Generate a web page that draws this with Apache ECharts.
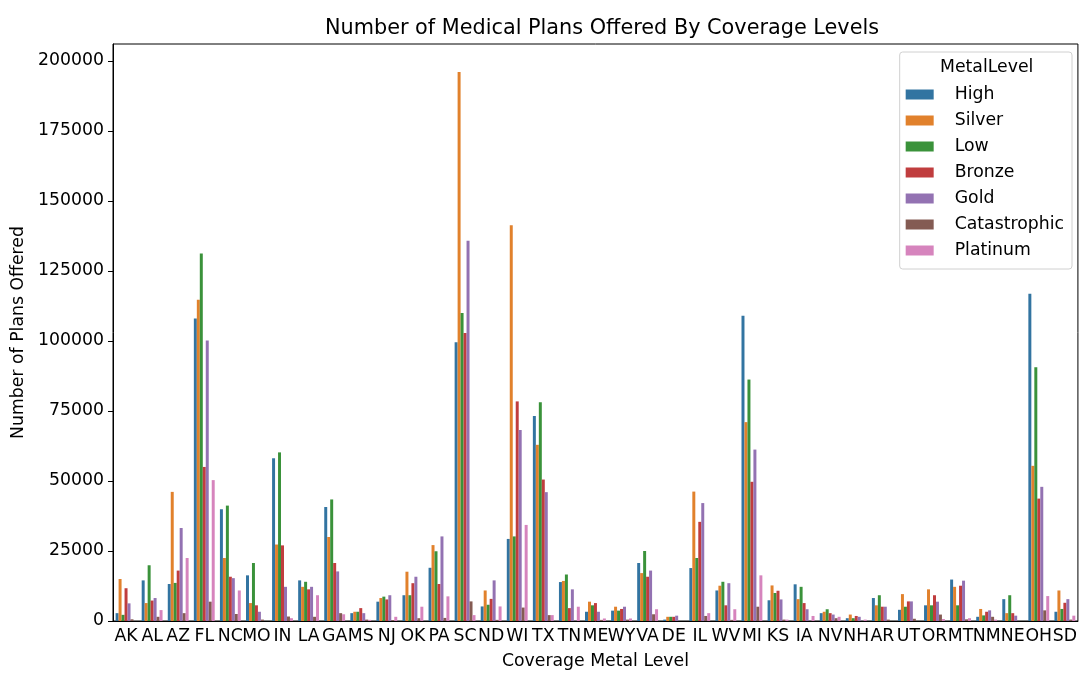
<!DOCTYPE html>
<html lang="en">
<head>
    <meta charset="UTF-8">
    <title>Medical Plans by Coverage Level</title>
    <script type="text/javascript" src="https://cdn.jsdelivr.net/npm/echarts@6/dist/echarts.min.js"></script>
    <style>
        html, body { margin: 0; padding: 0; background: #fff; }
    </style>
</head>
<body>
<div id="main" style="width:1080px;height:675px;"></div>
<script>
    const states = ['AK','AL','AZ','FL','NC','MO','IN','LA','GA','MS','NJ','OK','PA','SC','ND','WI','TX','TN','ME','WY','VA','DE','IL','WV','MI','KS','IA','NV','NH','AR','UT','OR','MT','NM','NE','OH','SD'];
    const levels = ['High','Silver','Low','Bronze','Gold','Catastrophic','Platinum'];
    const colors = ['#3274a1','#e1812c','#3a923a','#c03d3e','#9372b2','#845b53','#d684bd'];

    const high = [2800,14500,13200,108000,39900,16300,58100,14500,40700,2800,6900,9200,19000,99500,5200,29300,73200,13900,3300,3700,20700,500,18900,10900,109000,7400,13100,2800,1000,8200,4000,5600,14800,1500,7800,116800,3300];
    const silver = [15000,6400,46100,114700,22500,6400,27300,12200,30000,3300,8200,17600,27100,196000,10900,141300,62900,14300,6900,5100,17100,1500,46200,12600,71000,12700,7800,3300,2300,5600,9600,11300,12200,4300,2800,55400,10900];
    const low = [2200,19900,13600,131200,41200,20700,60200,14000,43400,3300,8700,9200,24900,110000,5800,30200,78100,16600,5600,3700,25000,1500,22500,14000,86200,10000,12200,4200,1000,9200,5100,5600,5600,2000,9200,90600,4300];
    const bronze = [11700,7300,18000,55000,15800,5600,27000,11300,20700,4600,7700,13500,13200,102800,7900,78400,50500,4600,6400,4300,15800,1500,35400,5600,49700,10800,6400,2800,1800,5100,7000,9200,12600,3300,2800,43700,6500];
    const gold = [6300,8200,33200,100100,15300,3300,12200,12200,17700,2800,9200,15800,30200,135800,14500,68200,46000,11300,3300,5100,18000,1900,42100,13500,61200,7700,4200,2300,1500,5100,7000,6900,14400,3800,1900,47900,7800];
    const catastrophic = [600,1500,2800,6900,2500,500,1600,1500,2800,500,300,1000,1100,7000,400,4800,2100,0,400,500,2400,0,1800,400,5100,500,0,1000,0,500,800,2300,600,1500,0,3800,500];
    const platinum = [0,3900,22500,50300,10900,0,1000,9200,2400,400,1500,5100,8800,2100,5200,34300,2100,5100,900,900,4200,0,2800,4200,16300,500,1800,1500,500,0,0,700,1000,500,0,8900,1900];

    const seriesData = [high, silver, low, bronze, gold, catastrophic, platinum];
    const font = 'DejaVu Sans';

    let myChart = echarts.init(document.getElementById('main'));

    let series = levels.map(function (name, i) {
        return {
            name: name,
            type: 'bar',
            data: seriesData[i],
            barGap: '0%',
            barCategoryGap: '20%',
            itemStyle: { color: colors[i] }
        };
    });

    let option = {
        animation: false,
        color: colors,
        textStyle: { fontFamily: font },
        title: {
            text: 'Number of Medical Plans Offered By Coverage Levels',
            left: 597,
            textAlign: 'center',
            top: 13,
            textStyle: { fontFamily: font, fontSize: 20.8, fontWeight: 'normal', color: '#000' }
        },
        grid: {
            left: 113, right: 1, top: 44, bottom: 53,
            show: true, borderColor: '#000', borderWidth: 1
        },
        legend: {
            data: levels,
            orient: 'vertical',
            right: 8,
            top: 52,
            padding: [34, 8, 10, 6],
            itemWidth: 28,
            itemHeight: 10,
            itemGap: 9,
            icon: 'rect',
            borderColor: '#d0d0d0',
            borderWidth: 1,
            borderRadius: 3,
            backgroundColor: 'rgba(255,255,255,0.8)',
            textStyle: { fontFamily: font, fontSize: 17.3, color: '#000', padding: [0, 0, 0, 16] }
        },
        graphic: [{
            type: 'text',
            z: 100,
            left: 940,
            top: 59,
            style: { text: 'MetalLevel', font: '17.3px "DejaVu Sans"', fill: '#000' }
        }],
        xAxis: {
            type: 'category',
            data: states,
            name: 'Coverage Metal Level',
            nameLocation: 'middle',
            nameGap: 32,
            nameTextStyle: { fontFamily: font, fontSize: 17.3, color: '#000' },
            axisLine: { lineStyle: { color: '#000' } },
            axisTick: { alignWithLabel: true, length: 5, lineStyle: { color: '#000' } },
            axisLabel: { fontFamily: font, fontSize: 17.3, color: '#000', interval: 0, margin: 7 }
        },
        yAxis: {
            type: 'value',
            min: 0,
            max: 206000,
            interval: 25000,
            name: 'Number of Plans Offered',
            nameLocation: 'middle',
            nameGap: 86,
            nameTextStyle: { fontFamily: font, fontSize: 17.3, color: '#000' },
            axisLine: { show: true, lineStyle: { color: '#000' } },
            axisTick: { show: true, length: 5, lineStyle: { color: '#000' } },
            splitLine: { show: false },
            axisLabel: {
                fontFamily: font, fontSize: 17.3, color: '#000', margin: 9, showMaxLabel: false,
                formatter: function (v) { return String(v); }
            }
        },
        series: series
    };

    myChart.setOption(option);
</script>
</body>
</html>
